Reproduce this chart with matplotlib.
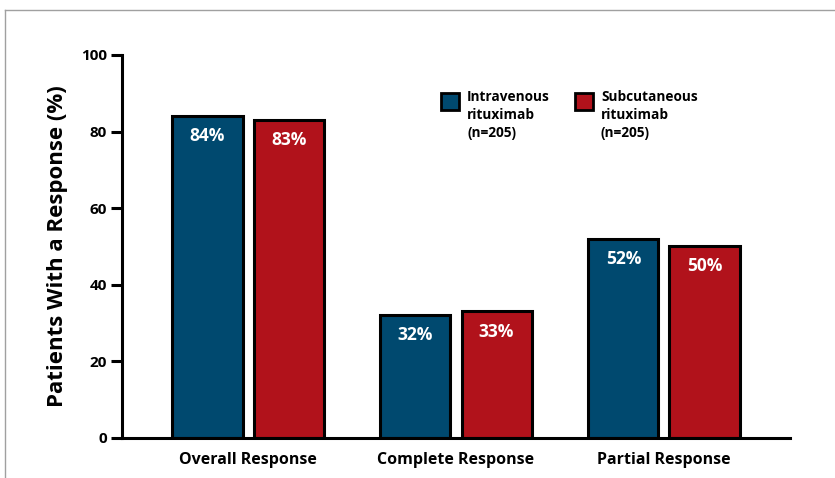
import numpy as np
import matplotlib.pyplot as plt
from matplotlib.patches import Rectangle
from matplotlib.lines import Line2D

# ========================
# Data
# ========================
categories = ["Overall Response", "Complete Response", "Partial Response"]
iv_values = [84, 32, 52]
sc_values = [83, 33, 50]
series_labels = ["Intravenous\nrituximab\n(n=205)", "Subcutaneous\nrituximab\n(n=205)"]
y_ticks = [0, 20, 40, 60, 80, 100]

iv_color = "#00496f"
sc_color = "#b1121b"

plt.rcParams['font.family'] = ['Open Sans', 'DejaVu Sans']

# ========================
# Figure
# ========================
fig = plt.figure(figsize=(8.35, 4.78), dpi=100)
ax = fig.add_axes([0.1461, 0.0843, 0.8, 0.8007])

x = np.arange(len(categories))
width = 0.337
offset = 0.195

bars_iv = ax.bar(x - offset, iv_values, width, color=iv_color,
                 edgecolor="black", linewidth=2.2, zorder=3)
bars_sc = ax.bar(x + offset, sc_values, width, color=sc_color,
                 edgecolor="black", linewidth=2.2, zorder=3)

# value labels inside the top of each bar
for bars, vals in [(bars_iv, iv_values), (bars_sc, sc_values)]:
    for b, v in zip(bars, vals):
        ax.annotate(f"{v}%", (b.get_x() + b.get_width() / 2, v),
                    xytext=(0, -14.5), textcoords="offset points",
                    ha="center", va="center", color="white",
                    fontsize=12.5, fontweight="bold", zorder=4)

ax.set_xlim(-0.606, 2.606)
ax.set_ylim(0, 100)
ax.set_yticks(y_ticks)
ax.set_xticks(x)
ax.set_xticklabels(categories, fontsize=11.5, fontweight="bold")
ax.tick_params(axis="x", length=0, pad=10.5)
ax.tick_params(axis="y", length=8, width=2.2, labelsize=11, pad=3)
for lbl in ax.get_yticklabels():
    lbl.set_fontweight("bold")

for side in ["top", "right"]:
    ax.spines[side].set_visible(False)
for side in ["left", "bottom"]:
    ax.spines[side].set_linewidth(2.2)
    ax.spines[side].set_zorder(5)

ax.set_ylabel("Patients With a Response (%)", fontsize=16, fontweight="bold",
              labelpad=9)

# ========================
# Legend (drawn by hand in axes coordinates)
# ========================
legend_items = [(0.4775, 0.5165, iv_color, series_labels[0]),
                (0.678, 0.717, sc_color, series_labels[1])]
for sx, tx, col, lab in legend_items:
    ax.add_patch(Rectangle((sx, 0.857), 0.027, 0.044, transform=ax.transAxes,
                           facecolor=col, edgecolor="black", linewidth=2,
                           clip_on=False, zorder=5))
    ax.text(tx, 0.908, lab, transform=ax.transAxes, ha="left", va="top",
            fontsize=9.8, fontweight="bold", linespacing=1.35)

# thin gray frame along the top and left edges
fig.add_artist(Line2D([5 / 835, 1], [1 - 10 / 478] * 2, transform=fig.transFigure,
                      color="#a0a0a0", linewidth=1))
fig.add_artist(Line2D([5 / 835] * 2, [0, 1 - 10 / 478], transform=fig.transFigure,
                      color="#a0a0a0", linewidth=1))

fig.savefig("out.png", dpi=100)
